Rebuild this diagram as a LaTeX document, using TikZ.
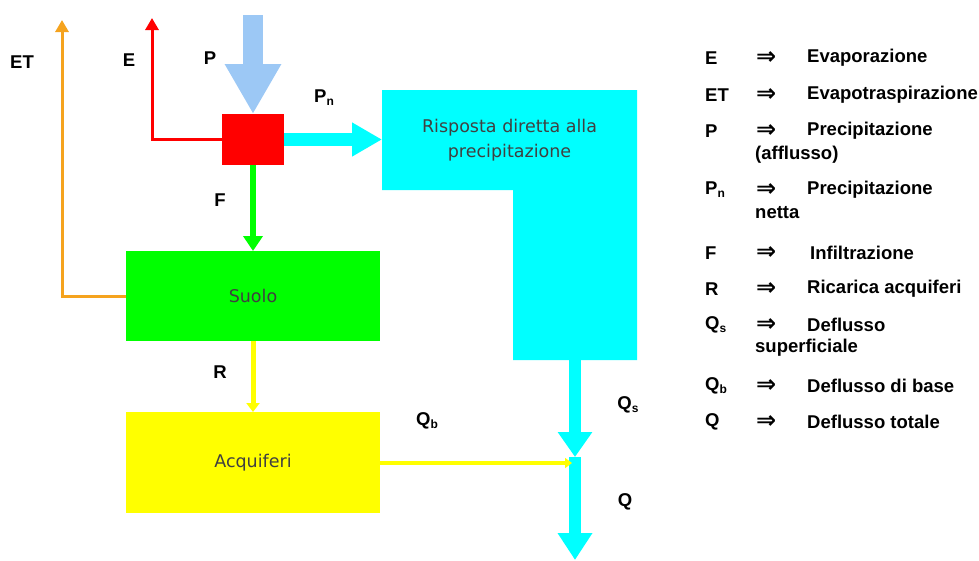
\documentclass[tikz,border=0pt]{standalone}
\usepackage{fontspec}
\setmainfont{Liberation Sans}
\newfontfamily\boxfont{DejaVu Sans}
\newfontfamily\arrfont{DejaVu Sans}
\usetikzlibrary{arrows.meta}
\definecolor{cyanc}{HTML}{00FFFF}
\definecolor{pblue}{HTML}{9CC8F5}
\definecolor{greenc}{HTML}{00FF00}
\definecolor{yellowc}{HTML}{FFFF00}
\definecolor{orangec}{HTML}{F5A31E}
\definecolor{redc}{HTML}{FF0000}
\newcommand\subx[1]{\raisebox{-3pt}{\fontsize{12}{12}\selectfont #1}}
\begin{document}
\begin{tikzpicture}[x=1pt,y=-1pt,
  lbl/.style={font=\fontsize{18.5}{21}\selectfont\bfseries, inner sep=0pt},
  legsym/.style={lbl, anchor=west},
  legarr/.style={font=\arrfont\bfseries\fontsize{24}{24}\selectfont, inner sep=0pt, anchor=west},
  legtxt/.style={lbl, anchor=west},
  boxtxt/.style={font=\boxfont\fontsize{17.5}{25}\selectfont, text=black!75, align=center},
  blockbox/.style={boxtxt, inner sep=0pt, outer sep=0pt}]
\path[use as bounding box] (0,0) rectangle (979,560);

% boxes
\node[blockbox, fill=redc, minimum width=62pt, minimum height=51pt] (redbox) at (253,139.5) {};
\node[blockbox, fill=greenc, minimum width=254pt, minimum height=90pt] (suolo) at (253,296) {Suolo};
\node[blockbox, fill=yellowc, minimum width=254pt, minimum height=101pt] (acq) at (253,462.5) {Acquiferi};
\fill[cyanc] (382,90) -- (637,90) -- (637,360) -- (513,360) -- (513,190) -- (382,190) -- cycle;
\node[blockbox, minimum width=255pt, minimum height=100pt] (risp) at (509.5,140) {Risposta diretta alla\\precipitazione};
\coordinate (rispout) at (575,360);
\coordinate (junc) at (575,457);
\coordinate (qend) at (575,560);
\coordinate (ptop) at (253,15);
\coordinate (etop) at (152,18);
\coordinate (ettop) at (62,20);

% arrows
\draw[pblue, line width=20pt, -{Triangle[length=50pt,width=53pt]}] (ptop) -- (redbox.north);
\draw[cyanc, line width=13pt, -{Triangle[length=30pt,width=32pt]}] (redbox.east) -- (redbox.east -| risp.west);
\draw[redc, line width=3pt, -{Triangle[length=12pt,width=13pt]}] (redbox.west) -| (etop);
\draw[orangec, line width=3pt, -{Triangle[length=12pt,width=13pt]}] (suolo.west) -| (ettop);
\draw[greenc, line width=6pt, -{Triangle[length=15pt,width=19pt]}] (redbox.south) -- (suolo.north);
\draw[yellowc, line width=5pt, -{Triangle[length=9pt,width=13pt]}] (suolo.south) -- (acq.north);
\draw[cyanc, line width=12pt, -{Triangle[length=25pt,width=33pt]}] (rispout) -- (junc);
\draw[cyanc, line width=12pt, -{Triangle[length=27pt,width=33pt]}] (junc) -- (qend);
\draw[yellowc, line width=4pt, -{Triangle[length=7pt,width=10pt]}] (acq.east |- 0,463) -- (572,463);

% flow labels
\node[lbl] (lET) at (22,62) {ET};
\node[lbl] (lE) at (129,60) {E};
\node[lbl] (lP) at (210,58) {P};
\node[lbl] (lPn) at (324,98) {P\subx{n}};
\node[lbl] (lF) at (220,200) {F};
\node[lbl] (lR) at (220,372) {R};
\node[lbl] (lQs) at (628,405) {Q\subx{s}};
\node[lbl] (lQb) at (427,421) {Q\subx{b}};
\node[lbl] (lQ) at (625,502) {Q};

% legend
\node[legsym] (s1) at (705,58) {E};
\node[legarr] (a1) at (756,58) {⇒};
\node[legtxt] (t1) at (807,58) {Evaporazione};
\node[legsym] (s2) at (705,95) {ET};
\node[legarr] (a2) at (756,95) {⇒};
\node[legtxt] (t2) at (807,95) {Evapotraspirazione};
\node[legsym] (s3) at (705,131) {P};
\node[legarr] (a3) at (756,131) {⇒};
\node[legtxt] (t3) at (807,131) {Precipitazione};
\node[legtxt] (t3b) at (755,155) {(afflusso)};
\node[legsym] (s4) at (705,190) {P\subx{n}};
\node[legarr] (a4) at (756,190) {⇒};
\node[legtxt] (t4) at (807,190) {Precipitazione};
\node[legtxt] (t4b) at (755,213) {netta};
\node[legsym] (s5) at (705,253) {F};
\node[legarr] (a5) at (756,253) {⇒};
\node[legtxt] (t5) at (810,253) {Infiltrazione};
\node[legsym] (s6) at (705,289) {R};
\node[legarr] (a6) at (756,289) {⇒};
\node[legtxt] (t6) at (807,289) {Ricarica acquiferi};
\node[legsym] (s7) at (705,325) {Q\subx{s}};
\node[legarr] (a7) at (756,325) {⇒};
\node[legtxt] (t7) at (807,325) {Deflusso};
\node[legtxt] (t7b) at (755,348) {superficiale};
\node[legsym] (s8) at (705,386) {Q\subx{b}};
\node[legarr] (a8) at (756,386) {⇒};
\node[legtxt] (t8) at (807,386) {Deflusso di base};
\node[legsym] (s9) at (705,422) {Q};
\node[legarr] (a9) at (756,422) {⇒};
\node[legtxt] (t9) at (807,422) {Deflusso totale};
\end{tikzpicture}
\end{document}
